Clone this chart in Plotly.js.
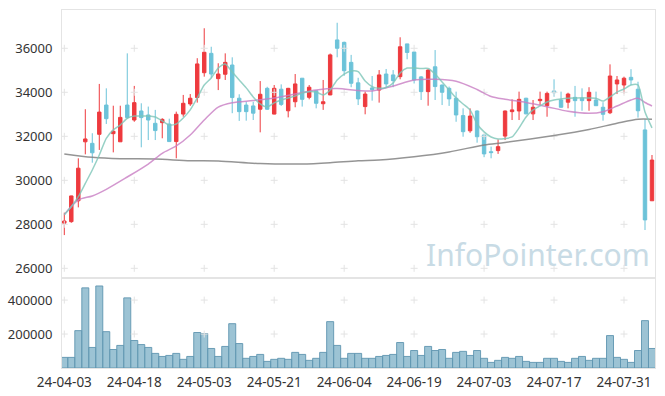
<!DOCTYPE html>
<html>
<head>
<meta charset="utf-8">
<script src="https://cdn.plot.ly/plotly-3.0.1.min.js"></script>
<style>html,body{margin:0;padding:0;background:#fff;}#chart{width:665px;height:396px;}</style>
</head>
<body>
<div id="chart"></div>
<script>
const dates = ["24-04-03","24-04-04","24-04-05","24-04-08","24-04-09","24-04-11","24-04-12","24-04-15","24-04-16","24-04-17",
"24-04-18","24-04-19","24-04-22","24-04-23","24-04-24","24-04-25","24-04-26","24-04-29","24-04-30","24-05-02",
"24-05-03","24-05-07","24-05-08","24-05-09","24-05-10","24-05-13","24-05-14","24-05-16","24-05-17","24-05-20",
"24-05-21","24-05-22","24-05-23","24-05-24","24-05-27","24-05-28","24-05-29","24-05-30","24-05-31","24-06-03",
"24-06-04","24-06-05","24-06-07","24-06-10","24-06-11","24-06-12","24-06-13","24-06-14","24-06-17","24-06-18",
"24-06-19","24-06-20","24-06-21","24-06-24","24-06-25","24-06-26","24-06-27","24-06-28","24-07-01","24-07-02",
"24-07-03","24-07-04","24-07-05","24-07-08","24-07-09","24-07-10","24-07-11","24-07-12","24-07-15","24-07-16",
"24-07-17","24-07-18","24-07-19","24-07-22","24-07-23","24-07-24","24-07-25","24-07-26","24-07-29","24-07-30",
"24-07-31","24-08-01","24-08-02","24-08-05","24-08-06"];

const openP = [28050,28120,29070,31750,31680,32090,33420,32120,31750,33420,
32740,33150,32970,32590,32620,32560,31760,33010,33470,33760,
34890,35770,34620,34820,35240,33730,33420,33380,33230,34180,
33010,34140,33160,33570,34640,33770,34070,33480,33880,36380,
36270,35360,34430,33350,34200,34100,34830,34790,34710,36200,
35830,34700,34030,35160,34330,34180,33730,32940,32250,33150,
32060,31300,31350,32010,33120,33150,33730,33020,33620,33390,
34060,33650,33550,33770,33730,33620,33650,33320,33070,34380,
34330,34680,34140,32290,29070];
const highP = [28530,29300,31000,33230,32140,34380,34180,33390,33390,35770,
34290,33500,33350,33200,32820,32800,33120,33880,33920,35550,
36910,36070,35320,35770,35590,33910,33570,33570,34510,34250,
34330,34360,34200,34830,34640,34330,34080,34560,35760,37160,
36300,35700,34660,34030,34740,35010,35060,35010,36500,36200,
35850,34740,35050,35920,34350,34260,34030,33270,33270,33180,
32080,31530,31860,33170,33680,34030,33750,33650,34030,34030,
34590,34030,33980,34290,34180,34230,34030,33550,35270,34740,
34710,35050,34480,32770,31150];
const lowP = [27510,28070,28770,31180,30800,31380,32560,31270,31750,32800,
32660,31500,31830,31830,31910,31750,31000,32890,33380,33530,
34710,34640,34100,34560,33050,32700,32710,32740,32180,33200,
33000,33380,32860,33320,33350,33680,33270,33200,33870,35590,
34750,34230,33420,33000,33620,33530,34230,34230,34590,35500,
34400,33650,33390,33650,33420,33380,32660,31980,32160,31710,
31050,31000,31200,31830,32740,32740,33000,32740,33420,32890,
33800,33300,33270,32890,33160,33160,33390,32710,33010,33920,
33950,34330,32850,27740,29070];
const closeP = [28150,29290,30550,31880,31250,33100,32800,32230,32860,32850,
33530,32850,32740,32260,32770,31760,33000,33500,33730,35290,
35820,34830,34830,35360,33760,33120,33120,33050,33910,33230,
34180,33450,34180,34380,33680,34230,33500,33570,35700,36000,
34980,34410,33700,33920,34120,34790,34380,34530,36070,35810,
34560,34030,35010,34260,34000,33700,32970,32210,32920,31980,
31200,31260,31530,33150,33200,33680,33020,33320,33680,33950,
33980,33320,33920,33620,33620,34000,33390,33000,34740,34560,
34640,34560,33160,28200,30920];
const volume = [62500,62500,220000,472000,121000,483000,214000,109000,133000,413000,
162000,138000,121000,86000,68000,74000,86000,51000,68000,209000,
203000,115000,68000,127000,261000,144000,57000,68000,80000,39000,
51000,57000,51000,92000,80000,45000,57000,92000,273000,133000,
57000,86000,86000,57000,57000,68000,74000,80000,150000,68000,
103000,74000,127000,103000,109000,57000,92000,98000,74000,103000,
57000,33000,45000,62500,57000,68000,39000,33000,33000,57000,
57000,39000,33000,57000,68000,45000,57000,57000,191000,62500,
51000,33000,103000,279000,115000];
const ma5 = [28440,28800,29255,29860,30470,31150,31910,32290,32510,32820,
32920,32920,32920,32880,32700,32510,32560,32830,33200,33740,
34330,34650,35100,35290,34920,34560,34200,33790,33470,33330,
33520,33650,33740,33830,33970,34030,34010,33880,34100,34560,
34830,34970,34940,34510,34260,34180,34220,34420,34880,35100,
35100,35080,35080,34830,34470,34100,33740,33470,33200,32560,
32200,31970,31880,31900,31970,32380,32880,33200,33380,33560,
33650,33700,33730,33740,33750,33740,33730,33600,33790,34010,
34150,34330,34330,33100,32380];
const ma20Idx = [0,2,4,6,9,12,14,16,18,20,22,24,27,30,33,36,39,42,44,47,50,53,56,59,61,63,66,69,72,75,77,79,81,82,83,84];
const ma20 = [28440,29105,29290,29590,30150,30740,31228,31560,32060,32740,33330,33527,33627,33740,33923,34105,34170,34080,34060,34287,34560,34590,34500,34128,33810,33682,33537,33346,33137,33046,33118,33377,33650,33727,33537,33377];
const maLongIdx = [0,4,8,13,18,22,28,34,38,42,45,50,55,60,63,70,75,79,82,84];
const maLong = [31200,31046,30982,30968,30890,30877,30760,30741,30800,30890,30923,31073,31290,31605,31720,32040,32310,32590,32773,32773];
const xTickIdx = [0,10,20,30,40,50,60,70,80];
const priceTicks = [26000,28000,30000,32000,34000,36000];
const volTicks = [200000,400000];

const xTicks = xTickIdx.map(i => dates[i]);
const FONT = "Noto Sans, DejaVu Sans, sans-serif";

function crosses(xa, ya, yvals) {
  const xs = [], ys = [];
  xTicks.forEach(x => yvals.forEach(y => { xs.push(x); ys.push(y); }));
  return {type:'scatter', mode:'markers', x: xs, y: ys, xaxis: xa, yaxis: ya,
    marker:{symbol:'cross-thin', size:5, color:'#e3e3e3', line:{color:'#e3e3e3', width:1}},
    hoverinfo:'skip', showlegend:false};
}

const traces = [
  crosses('x','y',priceTicks),
  crosses('x2','y2',volTicks),
  {type:'candlestick', x: dates, open: openP, high: highP, low: lowP, close: closeP,
   xaxis:'x', yaxis:'y',
   increasing:{line:{color:'#EE3A3E', width:1}, fillcolor:'#EE3A3E'},
   decreasing:{line:{color:'#6CC3D9', width:1}, fillcolor:'#6CC3D9'},
   whiskerwidth:0, hoverinfo:'skip', showlegend:false},
  {type:'bar', x: dates, y: volume, xaxis:'x2', yaxis:'y2',
   marker:{color:'rgba(128,178,200,0.78)', line:{color:'rgba(95,150,176,0.9)', width:1}},
   hoverinfo:'skip'},
  {type:'scatter', mode:'lines', x: maLongIdx.map(i=>dates[i]), y: maLong, xaxis:'x', yaxis:'y',
   line:{color:'rgba(130,130,130,0.85)', width:1.5, shape:'spline', smoothing:0.8}, hoverinfo:'skip'},
  {type:'scatter', mode:'lines', x: ma20Idx.map(i=>dates[i]), y: ma20, xaxis:'x', yaxis:'y',
   line:{color:'rgba(200,125,195,0.8)', width:1.5, shape:'spline', smoothing:0.8}, hoverinfo:'skip'},
  {type:'scatter', mode:'lines', x: dates, y: ma5, xaxis:'x', yaxis:'y',
   line:{color:'rgba(125,198,184,0.8)', width:1.5, shape:'spline', smoothing:0.6}, hoverinfo:'skip'}
];

const split = 0.2514;
const xRange = [-0.33, 84.43];
const axisCommon = {showline:true, mirror:true, linecolor:'#e4e4e4', linewidth:1, showgrid:false, zeroline:false};

const layout = {
  width:665, height:396,
  margin:{l:62, r:10, t:10, b:28},
  paper_bgcolor:'#ffffff', plot_bgcolor:'#ffffff',
  showlegend:false, hovermode:false, bargap:0,
  font:{family:FONT, size:13, color:'#333333'},
  xaxis: Object.assign({}, axisCommon, {type:'category', categoryorder:'array', categoryarray:dates,
    anchor:'y', range:xRange, showticklabels:false, ticks:'', rangeslider:{visible:false}, tickvals:xTicks}),
  xaxis2: Object.assign({}, axisCommon, {type:'category', categoryorder:'array', categoryarray:dates,
    anchor:'y2', range:xRange, matches:'x',
    tickvals:xTicks, ticktext:xTicks, ticks:'', ticklabelstandoff:2, tickangle:0,
    tickfont:{family:FONT, size:13.5, color:'#333333'}}),
  yaxis: Object.assign({}, axisCommon, {domain:[split,1], anchor:'x', range:[25560,37740],
    tickvals:priceTicks, ticktext:priceTicks.map(String), ticks:'', ticklabelstandoff:6,
    tickfont:{family:FONT, size:13, color:'#333333'}}),
  yaxis2: Object.assign({}, axisCommon, {domain:[0,split], anchor:'x2', range:[0,530000],
    tickvals:volTicks, ticktext:volTicks.map(String), ticks:'', ticklabelstandoff:6,
    tickfont:{family:FONT, size:13, color:'#333333'}}),
  annotations:[{text:'InfoPointer.com', xref:'paper', yref:'paper', x:0.803, y:0.318,
    xanchor:'center', yanchor:'middle', showarrow:false,
    font:{family:FONT, size:30, color:'#c8dbe5'}}]
};

Plotly.newPlot('chart', traces, layout, {staticPlot:true, displayModeBar:false});
</script>
</body>
</html>
